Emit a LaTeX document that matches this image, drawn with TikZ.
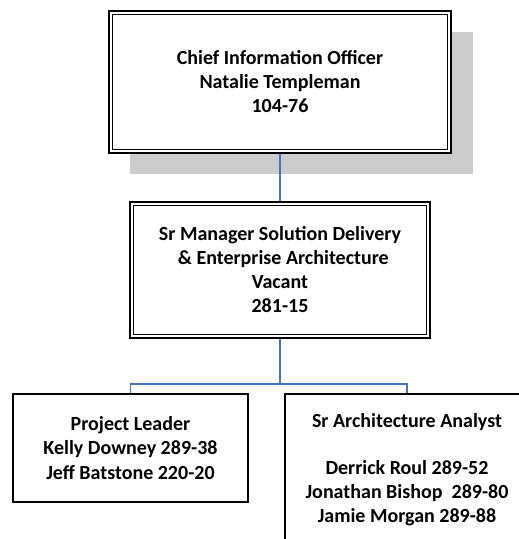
\documentclass[tikz,border=0pt]{standalone}
\usepackage{fontspec}
\setmainfont{Carlito}
\definecolor{connblue}{RGB}{68,114,196}
\definecolor{shadowgray}{RGB}{204,204,204}
\tikzset{
  box/.style={draw=black, line width=1.8pt, fill=white, inner sep=0pt, align=center,
    font=\bfseries\fontsize{20}{24}\selectfont},
  conn/.style={draw=connblue, line width=1.4pt},
  innerline/.style={draw=black, line width=1.1pt}
}
\begin{document}
\begin{tikzpicture}[x=1pt,y=1pt]
\useasboundingbox (0,0) rectangle (519,-539);
\clip (0,0) rectangle (519,-539);
% shadow
\fill[shadowgray] (130,-32) rectangle (473,-174);
% top box
\node[box, minimum width=342pt, minimum height=142pt] (cio) at (280,-82)
  {Chief Information Officer\\Natalie Templeman\\104-76};
\draw[innerline] ([shift={(4.5pt,-4.5pt)}]cio.north west) rectangle ([shift={(-4.5pt,4.5pt)}]cio.south east);
% middle box
\node[box, minimum width=300pt, minimum height=136pt] (mgr) at (280,-270)
  {Sr Manager Solution Delivery\\\,\,\& Enterprise Architecture\\Vacant\\281-15};
\draw[innerline] ([shift={(4.5pt,-4.5pt)}]mgr.north west) rectangle ([shift={(-4.5pt,4.5pt)}]mgr.south east);
% bottom boxes
\node[box, line width=1.4pt, minimum width=235pt, minimum height=108pt, font=\bfseries\fontsize{20}{24.5}\selectfont] (pl) at (130.5,-448)
  {Project Leader\\Kelly Downey 289-38\\Jeff Batstone 220-20};
\node[box, line width=1.4pt, minimum width=244pt, minimum height=151pt] (sa) at (407,-469.5)
  {Sr Architecture Analyst\\[23pt]Derrick Roul 289-52\\Jonathan Bishop\ \ 289-80\\Jamie Morgan 289-88};
% connectors
\coordinate (j) at (280,-384);
\draw[conn] (cio.south) -- (mgr.north);
\draw[conn] (mgr.south) -- (j);
\draw[conn] (pl.north) |- (j) -| (sa.north);
\end{tikzpicture}
\end{document}
